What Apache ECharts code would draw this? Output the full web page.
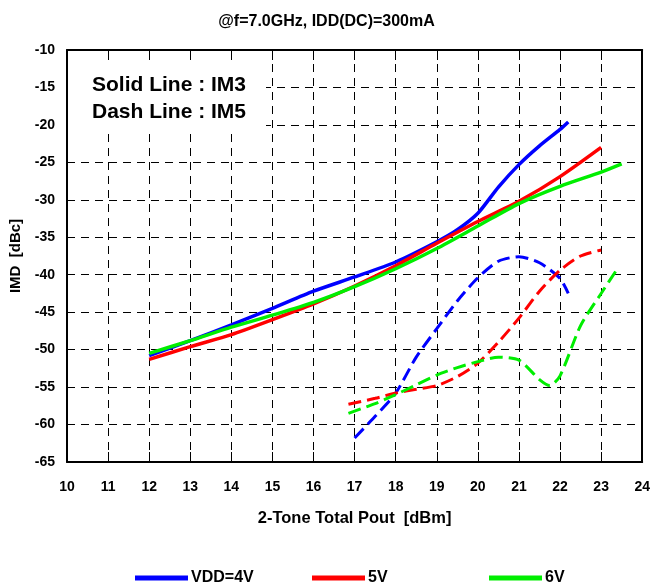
<!DOCTYPE html>
<html><head><meta charset="utf-8">
<script src="https://cdn.jsdelivr.net/npm/echarts@6/dist/echarts.min.js"></script>
<style>html,body{margin:0;padding:0;background:#fff}#c{width:653px;height:588px}</style>
</head><body><div id="c"></div>
<script>
// Data (x = 2-Tone Total Pout [dBm], y = IMD [dBc])
const im3_4V_x = [12, 13, 14, 15, 16, 17, 18, 19, 19.5, 20, 20.5, 21, 21.5, 22, 22.2];
const im3_4V_y = [-50.8, -48.8, -46.7, -44.5, -42.2, -40.3, -38.3, -35.6, -34.0, -31.8, -28.3, -25.3, -22.8, -20.6, -19.6];
const im3_5V_x = [12, 13, 14, 15, 16, 17, 18, 19, 20, 21, 22, 23];
const im3_5V_y = [-51.3, -49.6, -48.0, -46.0, -43.9, -41.5, -38.8, -35.8, -32.9, -30.2, -26.9, -23.0];
const im3_6V_x = [12, 13, 14, 15, 16, 17, 18, 19, 20, 21, 22, 23, 23.5];
const im3_6V_y = [-50.5, -48.8, -47.0, -45.4, -43.7, -41.6, -39.2, -36.5, -33.5, -30.5, -28.2, -26.3, -25.2];
const im5_4V_x = [17, 17.5, 18, 18.5, 19, 19.5, 20, 20.5, 21, 21.5, 22, 22.2];
const im5_4V_y = [-61.8, -58.9, -55.8, -51.0, -47.2, -43.5, -40.4, -38.2, -37.6, -38.4, -40.5, -42.5];
const im5_5V_x = [16.85, 17.5, 18, 18.5, 19, 19.5, 20, 20.5, 21, 21.5, 22, 22.5, 23];
const im5_5V_y = [-57.3, -56.5, -55.8, -55.3, -54.8, -53.6, -51.8, -49.0, -45.8, -42.2, -39.4, -37.5, -36.7];
const im5_6V_x = [16.85, 17.5, 18, 18.5, 19, 19.5, 20, 20.5, 21, 21.5, 21.75, 22, 22.5, 23, 23.42];
const im5_6V_y = [-58.5, -57.2, -56.0, -54.7, -53.4, -52.4, -51.6, -51.0, -51.4, -54.0, -54.8, -53.5, -46.8, -42.5, -39.0];
const seriesNames = ['VDD=4V', '5V', '6V'];
const colors = ['#0000ff', '#ff0000', '#00ee00'];
const titleText = '@f=7.0GHz, IDD(DC)=300mA';
const xName = '2-Tone Total Pout  [dBm]';
const yName = 'IMD  [dBc]';

const zip = (xs, ys) => xs.map((x, i) => [x, ys[i]]);
const FONT = 'Liberation Sans, Arial, sans-serif';
const im3 = [zip(im3_4V_x, im3_4V_y), zip(im3_5V_x, im3_5V_y), zip(im3_6V_x, im3_6V_y)];
const im5 = [zip(im5_4V_x, im5_4V_y), zip(im5_5V_x, im5_5V_y), zip(im5_6V_x, im5_6V_y)];

const series = [];
for (let i = 0; i < 3; i++) {
  series.push({ name: seriesNames[i], type: 'line', data: im3[i], showSymbol: false, smooth: 0.25,
    lineStyle: { color: colors[i], width: 3.5 }, itemStyle: { color: colors[i] }, z: 3 + i });
}
for (let i = 0; i < 3; i++) {
  series.push({ name: seriesNames[i] + ' IM5', type: 'line', data: im5[i], showSymbol: false, smooth: 0.25,
    lineStyle: { color: colors[i], width: 3, type: [13, 6] }, itemStyle: { color: colors[i] }, z: 3 + i });
}

const axisLbl = { color: '#000', fontWeight: 'bold', fontSize: 14, fontFamily: FONT };
const chart = echarts.init(document.getElementById('c'));
const legendBase = { top: 570, padding: 0, itemWidth: 53, itemHeight: 5, icon: 'rect', itemGap: 3,
  textStyle: { color: '#000', fontWeight: 'bold', fontSize: 16, fontFamily: FONT, padding: [0, 0, 0, -2] } };
chart.setOption({
  animation: false,
  backgroundColor: '#fff',
  title: { text: titleText, left: 'center', top: 9,
    textStyle: { fontSize: 16, fontWeight: 'bold', color: '#000', fontFamily: FONT } },
  grid: { left: 66, right: 9, top: 50, bottom: 126 },
  legend: [
    Object.assign({}, legendBase, { data: [seriesNames[0]], left: 135 }),
    Object.assign({}, legendBase, { data: [seriesNames[1]], left: 312 }),
    Object.assign({}, legendBase, { data: [seriesNames[2]], left: 489 })
  ],
  xAxis: [{
    type: 'value', min: 10, max: 24, interval: 1, position: 'bottom',
    name: xName, nameLocation: 'middle', nameGap: 48,
    nameTextStyle: { color: '#000', fontWeight: 'bold', fontSize: 16.5, fontFamily: FONT },
    axisLine: { lineStyle: { color: '#000', width: 2 } },
    axisTick: { inside: true, length: 10, lineStyle: { color: '#000' } },
    axisLabel: Object.assign({ margin: 18 }, axisLbl),
    splitLine: { show: true, lineStyle: { color: '#000', type: [8, 6], width: 1 } }
  }, {
    type: 'value', min: 10, max: 24, interval: 1, position: 'top',
    axisLine: { show: true, lineStyle: { color: '#000', width: 2 } },
    axisTick: { show: true, inside: true, length: 10, lineStyle: { color: '#000' } },
    axisLabel: { show: false }, splitLine: { show: false }
  }],
  yAxis: [{
    type: 'value', min: -65, max: -10, interval: 5,
    name: yName, nameLocation: 'middle', nameGap: 44,
    nameTextStyle: { color: '#000', fontWeight: 'bold', fontSize: 15, fontFamily: FONT },
    axisLine: { show: true, lineStyle: { color: '#000', width: 2 } },
    axisTick: { show: true, inside: true, length: 5, lineStyle: { color: '#000' } },
    axisLabel: Object.assign({ margin: 12 }, axisLbl),
    splitLine: { show: true, lineStyle: { color: '#000', type: [8, 6], width: 1 } }
  }, {
    type: 'value', min: -65, max: -10, interval: 5, position: 'right',
    axisLine: { show: true, lineStyle: { color: '#000', width: 2 } },
    axisTick: { show: false }, axisLabel: { show: false }, splitLine: { show: false }
  }],
  graphic: [
    { type: 'rect', left: 68, top: 61, shape: { width: 198, height: 68 }, style: { fill: '#fff' }, z: 1 },
    { type: 'text', left: 92, top: 75, style: { text: 'Solid Line : IM3', fontSize: 21, fontWeight: 'bold', fontFamily: FONT, fill: '#000' }, z: 2 },
    { type: 'text', left: 92, top: 102, style: { text: 'Dash Line : IM5', fontSize: 21, fontWeight: 'bold', fontFamily: FONT, fill: '#000' }, z: 2 }
  ],
  series: series
});
</script></body></html>
